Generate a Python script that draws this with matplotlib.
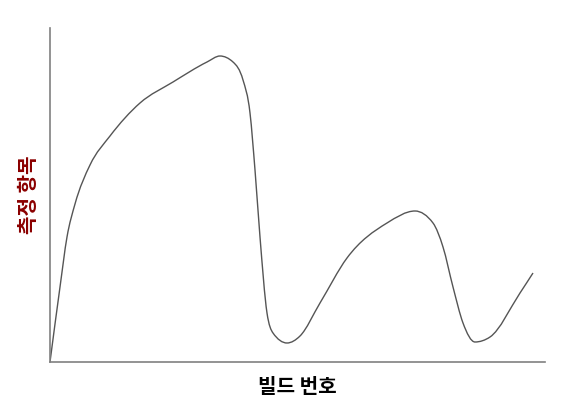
import matplotlib
matplotlib.use("Agg")
import matplotlib.pyplot as plt
from matplotlib.path import Path
from matplotlib.patches import PathPatch

plt.rcParams['font.family'] = ['Noto Sans CJK KR', 'DejaVu Sans']

# values (x: build position, y: metric level, 0 = axis)
build_x = [50, 60, 67, 75, 90, 110, 140, 173, 207, 220, 233, 243, 250, 255, 260,
           267, 273, 287, 300, 320, 347, 387, 415, 433, 443, 453, 463, 475, 490,
           520, 533]
metric_y = [0, 75, 125, 158, 197, 226, 259, 280, 300, 306, 300, 282, 249, 192, 125,
            49, 29, 19, 26, 59, 104, 139, 151, 139, 115, 75, 39, 20, 25,
            69, 89]

x_label = "빌드 번호"
y_label = "측정 항목"

fig = plt.figure(figsize=(5.75, 4.12), dpi=100)
ax = fig.add_axes([50/575, 1-362/412, (545-50)/575, (362-28)/412])


def sign(v):
    return (v > 0) - (v < 0)


# monotone cubic curve through the read points, drawn as Bezier segments
n = len(build_x)
h = [build_x[i + 1] - build_x[i] for i in range(n - 1)]
d = [(metric_y[i + 1] - metric_y[i]) / h[i] for i in range(n - 1)]
m = [0.0] * n
for i in range(1, n - 1):
    s = (h[i - 1] * d[i] + h[i] * d[i - 1]) / (h[i - 1] + h[i])
    m[i] = (sign(d[i - 1]) + sign(d[i])) * min(abs(d[i - 1]), abs(d[i]), 0.5 * abs(s))
m[0] = (3 * d[0] - m[1]) / 2
m[-1] = (3 * d[-1] - m[-2]) / 2

verts = [(build_x[0], metric_y[0])]
codes = [Path.MOVETO]
for i in range(n - 1):
    dx = h[i] / 3
    verts += [(build_x[i] + dx, metric_y[i] + m[i] * dx),
              (build_x[i + 1] - dx, metric_y[i + 1] - m[i + 1] * dx),
              (build_x[i + 1], metric_y[i + 1])]
    codes += [Path.CURVE4] * 3
ax.add_patch(PathPatch(Path(verts, codes), facecolor='none', edgecolor='#555555',
                       lw=1.0))

ax.set_xlim(50, 545)
ax.set_ylim(0, 334)

for s in ['top', 'right']:
    ax.spines[s].set_visible(False)
for s in ['left', 'bottom']:
    ax.spines[s].set_color('#808080')
    ax.spines[s].set_linewidth(1.2)
ax.set_xticks([])
ax.set_yticks([])

ax.set_xlabel(x_label, fontsize=14.5, fontweight='bold', color='black', labelpad=10)
ax.set_ylabel(y_label, fontsize=14.5, fontweight='bold', color='#8B0000', labelpad=8)

fig.savefig("out.png", dpi=100)
